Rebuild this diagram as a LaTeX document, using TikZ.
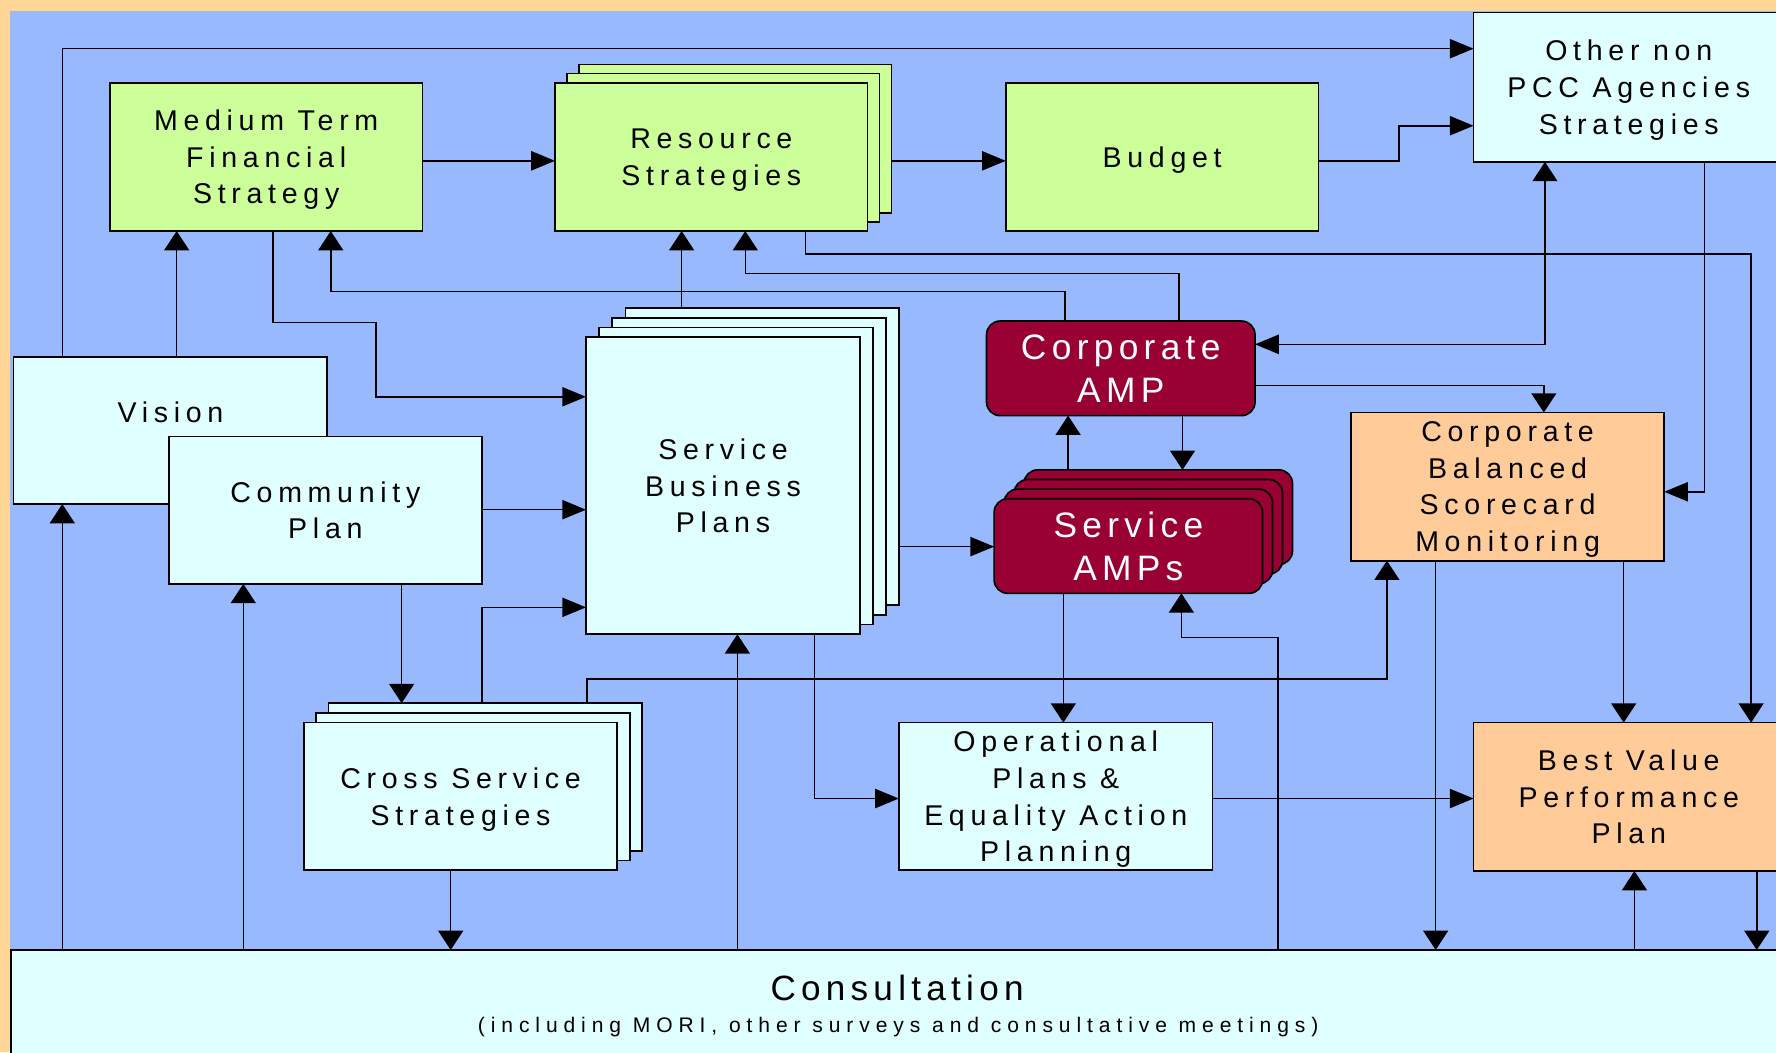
\documentclass[tikz,border=0pt]{standalone}
\usepackage{fontspec}
\setmainfont{Liberation Sans}
\newfontfamily\fnA[LetterSpace=20]{Liberation Sans}
\newfontfamily\fnB[LetterSpace=15]{Liberation Sans}
\newfontfamily\fnC[LetterSpace=28]{Liberation Sans}
\usetikzlibrary{arrows.meta}
\definecolor{framec}{RGB}{255,214,150}
\definecolor{bluec}{RGB}{153,185,255}
\definecolor{greenc}{RGB}{204,255,153}
\definecolor{cyanc}{RGB}{224,255,255}
\definecolor{crimc}{RGB}{153,0,51}
\definecolor{peachc}{RGB}{255,204,153}
\begin{document}
\begin{tikzpicture}[x=1pt,y=-1pt,
  box/.style={draw=black, line width=1.5pt, outer sep=0pt, inner sep=0pt, align=center,
    text depth=0pt, font=\fnA\fontsize{25.2}{32.4}\selectfont},
  gbox/.style={box, fill=greenc, minimum width=276pt, minimum height=131pt},
  cbox/.style={box, fill=cyanc},
  pbox/.style={box, fill=peachc},
  abox/.style={box, fill=crimc, text=white, rounded corners=12pt,
    minimum width=237pt, minimum height=83.5pt, font=\fnB\fontsize{31.2}{38.2}\selectfont},
  sbpbox/.style={cbox, minimum width=241.8pt, minimum height=262.2pt},
  csbox/.style={cbox, minimum width=276.8pt, minimum height=130.4pt},
  lbl/.style={inner sep=0pt, outer sep=0pt},
  ln/.style={line width=1.4pt, draw=black},
  harr/.style={ln, -{Triangle[length=21pt,width=17pt]}},
  varr/.style={ln, -{Triangle[length=17pt,width=22pt]}},
  darr/.style={ln, {Triangle[length=17pt,width=22pt]}-{Triangle[length=21pt,width=17pt]}}
]
\useasboundingbox (0,0) rectangle (1568,929);
% background
\fill[framec] (0,0) rectangle (1568,929);
\fill[bluec] (9,10) rectangle (1568,929);

% nodes
\node[gbox] (mtfs) at (235,138.5) {Medium Term\\Financial\\Strategy};
\node[gbox] (res2) at (649,122.5) {};
\node[gbox] (res1) at (638.5,130.5) {};
\node[gbox] (res) at (628,138.5) {Resource\\Strategies};
\node[gbox] (budget) at (1026,138.5) {Budget};
\node[cbox, minimum width=274pt, minimum height=132pt] (other) at (1438,77) {Other non\\PCC Agencies\\Strategies};

\node[cbox, minimum width=277pt, minimum height=130pt] (vision) at (150.5,380) {};
\node[lbl, font=\fnA\fontsize{25.2}{32.4}\selectfont] (visiontxt) at (150.5,364) {Vision};
\node[cbox, minimum width=276.5pt, minimum height=130pt] (comm) at (287.25,450.5) {Community\\Plan};

\node[sbpbox] (sbp3) at (673.1,403.1) {};
\node[sbpbox] (sbp2) at (661.5,411.7) {};
\node[sbpbox] (sbp1) at (649.9,420.3) {};
\node[sbpbox] (sbp) at (638.3,428.9) {Service\\Business\\Plans};

\node[abox] (camp) at (989.5,325.2) {Corporate\\AMP};
\node[abox] (samp3) at (1022.6,456.6) {};
\node[abox] (samp2) at (1013.8,465.1) {};
\node[abox] (samp1) at (1005,473.6) {};
\node[abox] (samp) at (996.2,482.1) {Service\\AMPs};

\node[pbox, minimum width=276.5pt, minimum height=130.8pt] (cbsm) at (1331,429.6) {Corporate\\Balanced\\Scorecard\\Monitoring};

\node[csbox] (cross2) at (428.4,686) {};
\node[csbox] (cross1) at (417.5,694.6) {};
\node[csbox] (cross) at (406.6,703.2) {Cross Service\\Strategies};

\node[cbox, minimum width=277pt, minimum height=130.4pt] (ops) at (932.1,703.2) {Operational\\Plans \&\\Equality Action\\Planning};
\node[pbox, minimum width=274pt, minimum height=131pt] (bv) at (1438,703.5) {Best Value\\Performance\\Plan};

\node[cbox, minimum width=1570pt, minimum height=130pt] (cons) at (795,903.7) {};
\node[lbl, anchor=base, font=\fnB\fontsize{31}{38}\selectfont] (constitle) at (792,883) {Consultation};
\node[lbl, anchor=base, font=\fnC\fontsize{18.6}{22}\selectfont] (conssub) at (793,912) {(including MORI, other surveys and consultative meetings)};

% connectors
\draw[harr] (vision.north -| 55,0) |- (other.west |- 0,43);
\draw[harr] (mtfs.east |- 0,142) -- (res.west |- 0,142);
\draw[harr] (res2.east |- 0,142) -- (budget.west |- 0,142);
\draw[harr] (budget.east |- 0,142) -- (1235,142) |- (other.west |- 0,111);
\draw[varr] (156,0 |- vision.north) -- (156,0 |- mtfs.south);
\draw[harr] (241,0 |- mtfs.south) -- (241,284.6) -- (332,284.6) |- (sbp.west |- 0,350.3);
\draw[varr] (940,0 |- camp.north) |- (292,257.5) -- (292,0 |- mtfs.south);
\draw[varr] (1041,0 |- camp.north) |- (658,241.6) -- (658,0 |- res.south);
\draw[varr] (601.8,0 |- sbp3.north) -- (601.8,0 |- res.south);
\draw[varr] (711,0 |- res.south) |- (1546,224) -- (1546,0 |- bv.north);
\draw[darr] (1364,0 |- other.south) |- (camp.east |- 0,304);
\draw[harr] (1504.7,0 |- other.south) |- (cbsm.east |- 0,434.2);
\draw[varr] (camp.east |- 0,340.2) -| (1363,0 |- cbsm.north);
\draw[varr] (943,0 |- samp3.north) -- (943,0 |- camp.south);
\draw[varr] (1044,0 |- camp.south) -- (1044,0 |- samp3.north);
\draw[harr] (sbp3.east |- 0,482.6) -- (samp.west |- 0,482.6);
\draw[harr] (comm.east |- 0,450) -- (sbp.west |- 0,450);
\draw[varr] (354.6,0 |- comm.south) -- (354.6,0 |- cross2.north);
\draw[harr] (425.8,0 |- cross2.north) |- (sbp.west |- 0,536.2);
\draw[varr] (518,0 |- cross2.north) |- (1224.5,599.7) -- (1224.5,0 |- cbsm.south);
\draw[varr] (397.9,0 |- cross.south) -- (397.9,0 |- cons.north);
\draw[varr] (55,0 |- cons.north) -- (55,0 |- vision.south);
\draw[varr] (214.8,0 |- cons.north) -- (214.8,0 |- comm.south);
\draw[varr] (651,0 |- cons.north) -- (651,0 |- sbp.south);
\draw[harr] (719,0 |- sbp.south) |- (ops.west |- 0,705);
\draw[varr] (938.8,0 |- samp.south) -- (938.8,0 |- ops.north);
\draw[varr] (1128.3,0 |- cons.north) |- (1043,562.7) -- (1043,0 |- samp.south);
\draw[harr] (ops.east |- 0,705) -- (bv.west |- 0,705);
\draw[varr] (1433.5,0 |- cbsm.south) -- (1433.5,0 |- bv.north);
\draw[varr] (1267.5,0 |- cbsm.south) -- (1267.5,0 |- cons.north);
\draw[varr] (1443,0 |- cons.north) -- (1443,0 |- bv.south);
\draw[varr] (1551,0 |- bv.south) -- (1551,0 |- cons.north);
\end{tikzpicture}
\end{document}
